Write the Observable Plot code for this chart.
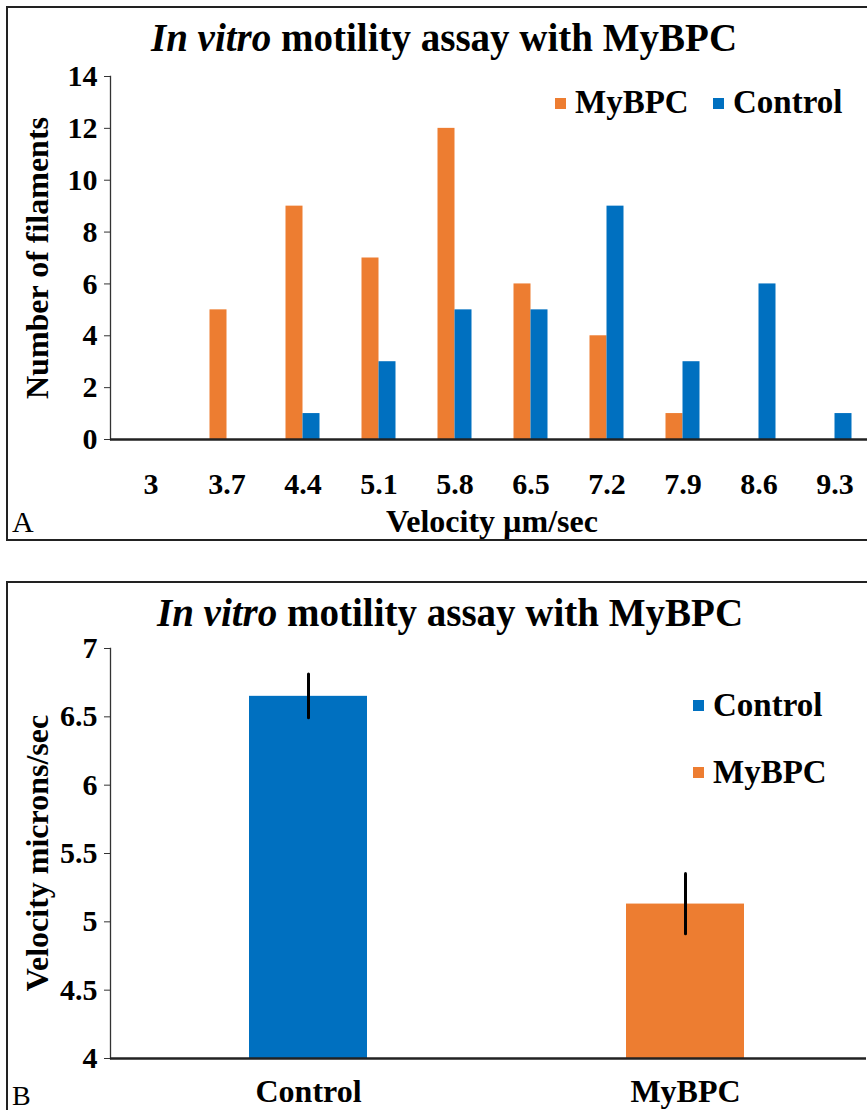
<!DOCTYPE html>
<html>
<head>
<meta charset="utf-8">
<script src="https://cdn.jsdelivr.net/npm/d3@7"></script>
<script src="https://cdn.jsdelivr.net/npm/@observablehq/plot@0.6"></script>
<style>
  html, body { margin: 0; padding: 0; background: #fff; }
  #page { position: relative; width: 867px; height: 1110px; overflow: hidden; background: #fff;
          font-family: 'Liberation Serif', 'Times New Roman', serif; color: #000; }
  .box { position: absolute; border: 2px solid #222; box-sizing: border-box; }
  .t { position: absolute; white-space: nowrap; line-height: 1; font-weight: bold; }
  .n { font-weight: normal; }
  .c { transform: translate(-50%, -50%); }
  .rot { transform: translate(-50%, -50%) rotate(-90deg); }
  .sw { position: absolute; width: 11px; height: 11px; }
  .plot { position: absolute; left: 0; width: 900px; }
  .plot svg { max-width: none !important; }
</style>
</head>
<body>
<div id="page">
  <div class="box" style="left:6px; top:6px; width:920px; height:535px;"></div>
  <div class="box" style="left:6px; top:581px; width:920px; height:560px;"></div>

  <div class="t c" style="left:444px; top:37px; font-size:39px;"><i>In vitro</i> motility assay with MyBPC</div>
  <div class="t rot" style="left:37px; top:258px; font-size:32px;">Number of filaments</div>
  <div class="t c" style="left:492px; top:521px; font-size:32px;">Velocity µm/sec</div>
  <div class="t n" style="left:12px; top:507px; font-size:30px;">A</div>
  <div class="sw" style="left:555px; top:98px; background:#ED7D31;"></div>
  <div class="t" style="left:575px; top:86px; font-size:33px;">MyBPC</div>
  <div class="sw" style="left:713px; top:98px; background:#0070C0;"></div>
  <div class="t" style="left:733px; top:86px; font-size:33px;">Control</div>

  <div class="t c" style="left:450px; top:612px; font-size:39px;"><i>In vitro</i> motility assay with MyBPC</div>
  <div class="t rot" style="left:37px; top:853px; font-size:32px;">Velocity microns/sec</div>
  <div class="t n" style="left:12px; top:1082px; font-size:28px;">B</div>
  <div class="sw" style="left:693px; top:700px; background:#0070C0;"></div>
  <div class="t" style="left:713px; top:689px; font-size:33px;">Control</div>
  <div class="sw" style="left:693px; top:767px; background:#ED7D31;"></div>
  <div class="t" style="left:713px; top:756px; font-size:33px;">MyBPC</div>

  <div id="plotA" class="plot" style="top:0px;"></div>
  <div id="plotB" class="plot" style="top:582px;"></div>
</div>
<script>
// ---- Data: panel A (histogram of filament velocities) ----
const velocities = ["3", "3.7", "4.4", "5.1", "5.8", "6.5", "7.2", "7.9", "8.6", "9.3"];
const mybpcCounts = [0, 5, 9, 7, 12, 6, 4, 1, 0, 0];
const controlCounts = [0, 0, 1, 3, 5, 5, 9, 3, 6, 1];
const yTicksA = [0, 2, 4, 6, 8, 10, 12, 14];

// ---- Data: panel B (mean velocity with error bars) ----
const groups = ["Control", "MyBPC"];
const meanVelocity = [6.65, 5.13];
const errVelocity = [0.16, 0.22];
const yTicksB = [4, 4.5, 5, 5.5, 6, 6.5, 7];

const ORANGE = "#ED7D31";
const BLUE = "#0070C0";
const font = "'Liberation Serif', 'Times New Roman', serif";

const mybpcData = velocities.map((v, i) => ({v, count: mybpcCounts[i]})).filter(d => d.count > 0);
const controlData = velocities.map((v, i) => ({v, count: controlCounts[i]})).filter(d => d.count > 0);

const plotA = Plot.plot({
  width: 900,
  height: 540,
  marginLeft: 110,
  marginRight: 26,
  marginTop: 76,
  marginBottom: 101,
  style: {fontFamily: font, fontWeight: "bold", color: "#000", background: "transparent", overflow: "visible", maxWidth: "none"},
  x: {domain: velocities, paddingInner: 0.7775, paddingOuter: 0.389},
  y: {domain: [0, 14]},
  marks: [
    Plot.barY(mybpcData, {x: "v", y: "count", fill: ORANGE, dx: -8.5}),
    Plot.barY(controlData, {x: "v", y: "count", fill: BLUE, dx: 8.5}),
    Plot.frame({anchor: "left", stroke: "#333", strokeWidth: 1.3}),
    Plot.axisY({ticks: yTicksA, fontSize: 30, tickSize: 6, tickPadding: 7, label: null, stroke: "#333"}),
    Plot.axisX({fontSize: 30, tickSize: 0, tickPadding: 33, label: null}),
    Plot.ruleY([0], {stroke: "#222", strokeWidth: 2.5})
  ]
});
document.getElementById("plotA").appendChild(plotA);

const dataB = groups.map((g, i) => ({g, mean: meanVelocity[i], lo: meanVelocity[i] - errVelocity[i], hi: meanVelocity[i] + errVelocity[i]}));

const plotB = Plot.plot({
  width: 900,
  height: 528,
  marginLeft: 110,
  marginRight: 34,
  marginTop: 66,
  marginBottom: 52,
  style: {fontFamily: font, fontWeight: "bold", color: "#000", background: "transparent", overflow: "visible", maxWidth: "none"},
  x: {domain: groups, paddingInner: 0.687, paddingOuter: 0.346, align: 0.533},
  y: {domain: [4, 7]},
  marks: [
    Plot.barY(dataB, {x: "g", y1: 4, y2: "mean", fill: d => d.g === "Control" ? BLUE : ORANGE}),
    Plot.ruleX(dataB, {x: "g", y1: "lo", y2: "hi", stroke: "#000", strokeWidth: 3, strokeLinecap: "round"}),
    Plot.frame({anchor: "left", stroke: "#333", strokeWidth: 1.3}),
    Plot.axisY({ticks: yTicksB, tickFormat: d => String(d), fontSize: 30, tickSize: 6, tickPadding: 7, label: null, stroke: "#333"}),
    Plot.axisX({fontSize: 32, tickSize: 0, tickPadding: 21, label: null}),
    Plot.ruleY([4], {stroke: "#222", strokeWidth: 2.5})
  ]
});
document.getElementById("plotB").appendChild(plotB);
</script>
</body>
</html>
